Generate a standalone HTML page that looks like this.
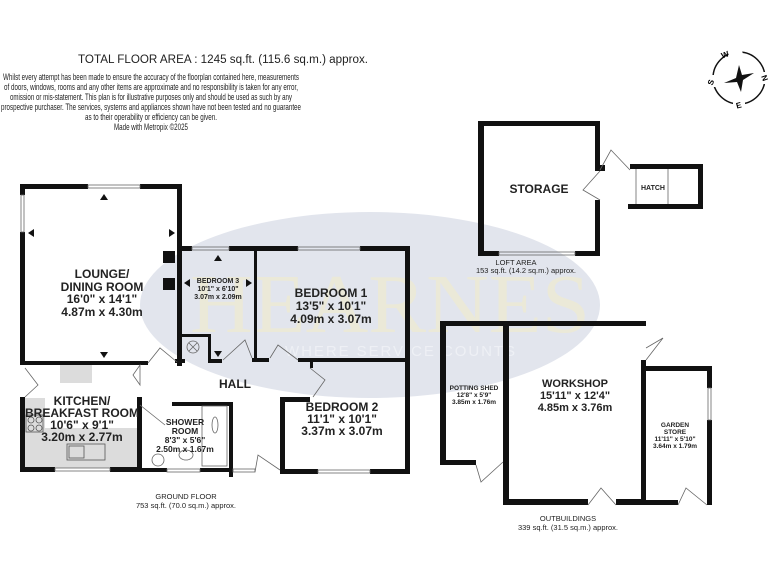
<!DOCTYPE html>
<html><head><meta charset="utf-8"><style>
html,body{margin:0;padding:0;background:#fff;}
svg{display:block;}
text{font-family:"Liberation Sans",sans-serif;}
</style></head><body>
<svg width="768" height="576" viewBox="0 0 768 576" xmlns="http://www.w3.org/2000/svg">
<rect width="768" height="576" fill="#fff"/>
<ellipse cx="370" cy="305" rx="230" ry="93" fill="#e2e5ed"/>
<text x="390" y="332" style="font-family:'Liberation Serif',serif" font-size="84" fill="#ebe9d8" text-anchor="middle" textLength="400" lengthAdjust="spacingAndGlyphs">HEARNES</text>
<text x="400" y="356" font-size="15" fill="#eef0f5" text-anchor="middle" textLength="230" lengthAdjust="spacing">WHERE SERVICE COUNTS</text>

<text x="78" y="63" font-size="11.5" fill="#222" textLength="290" lengthAdjust="spacingAndGlyphs">TOTAL FLOOR AREA : 1245 sq.ft. (115.6 sq.m.) approx.</text>
<g font-size="9.5" fill="#222" text-anchor="middle">
<text x="151" y="80" textLength="296" lengthAdjust="spacingAndGlyphs">Whilst every attempt has been made to ensure the accuracy of the floorplan contained here, measurements</text>
<text x="151" y="90" textLength="294" lengthAdjust="spacingAndGlyphs">of doors, windows, rooms and any other items are approximate and no responsibility is taken for any error,</text>
<text x="151" y="100" textLength="282" lengthAdjust="spacingAndGlyphs">omission or mis-statement. This plan is for illustrative purposes only and should be used as such by any</text>
<text x="151" y="110" textLength="300" lengthAdjust="spacingAndGlyphs">prospective purchaser. The services, systems and appliances shown have not been tested and no guarantee</text>
<text x="151" y="120" textLength="132" lengthAdjust="spacingAndGlyphs">as to their operability or efficiency can be given.</text>
<text x="151" y="130" textLength="74" lengthAdjust="spacingAndGlyphs">Made with Metropix ©2025</text>
</g>

<g transform="translate(739,78)">
<circle r="26" fill="none" stroke="#111" stroke-width="1.5"/>
<rect x="-4" y="-31" width="14" height="9" fill="#fff" transform="rotate(-15)"/>
<rect x="21" y="-6" width="10" height="12" fill="#fff"/>
<rect x="-31" y="-3" width="10" height="12" fill="#fff"/>
<rect x="-6" y="21" width="12" height="10" fill="#fff"/>
<polygon points="0,-13 3,-3 15,-5 4,2 2,14 -2,4 -15,5 -3,0" fill="#111"/>
<text x="-9" y="-24" font-size="8" font-weight="bold" transform="rotate(-20)">W</text>
<text x="23" y="3" font-size="8" font-weight="bold" transform="rotate(70 26 0)">N</text>
<text x="-32" y="6" font-size="8" font-weight="bold" transform="rotate(-70 -28 3)">S</text>
<text x="-3" y="30" font-size="8" font-weight="bold" transform="rotate(-15 0 27)">E</text>
</g>

<g fill="#dcdcdc">
<rect x="25" y="398" width="112" height="70"/>
<rect x="60" y="365" width="32" height="18"/>
</g>
<rect x="25" y="398" width="112" height="30" fill="#fff"/>
<rect x="25" y="398" width="20" height="70" fill="#dcdcdc"/>
<g fill="none" stroke="#555" stroke-width="0.8">
<rect x="26" y="415" width="17" height="17"/>
<circle cx="31" cy="420" r="3"/><circle cx="39" cy="420" r="3"/><circle cx="31" cy="428" r="3"/><circle cx="39" cy="428" r="3"/>
<rect x="67" y="444" width="38" height="16"/>
<rect x="69" y="446" width="15" height="12"/>
</g>

<g fill="#111">
<rect x="20" y="184" width="68" height="5"/>
<rect x="140" y="184" width="42" height="5"/>
<rect x="20" y="184" width="5" height="11"/>
<rect x="20" y="232" width="5" height="133"/>
<rect x="20" y="361" width="128" height="4"/>
<rect x="177" y="184" width="5" height="65"/>
<rect x="177" y="246" width="5" height="120"/>
<rect x="163" y="251" width="12" height="12"/>
<rect x="163" y="278" width="12" height="12"/>
<rect x="177" y="246" width="15" height="5"/>
<rect x="229" y="246" width="69" height="5"/>
<rect x="360" y="246" width="50" height="5"/>
<rect x="405" y="246" width="5" height="228"/>
<rect x="254" y="251" width="3" height="111"/>
<rect x="252" y="358" width="17" height="4"/>
<rect x="298" y="358" width="112" height="4"/>
<rect x="182" y="334" width="28" height="3"/>
<rect x="208" y="334" width="3" height="28"/>
<rect x="208" y="359" width="14" height="4"/>
<rect x="175" y="359" width="10" height="4"/>
<rect x="280" y="397" width="30" height="5"/>
<rect x="280" y="397" width="5" height="77"/>
<rect x="280" y="469" width="38" height="5"/>
<rect x="370" y="469" width="40" height="5"/>
<rect x="310" y="362" width="3" height="6"/>
<rect x="20" y="397" width="5" height="75"/>
<rect x="20" y="467" width="35" height="5"/>
<rect x="110" y="467" width="32" height="5"/>
<rect x="137" y="397" width="5" height="75"/>
<rect x="137" y="361" width="10" height="4"/>
<rect x="172" y="402" width="61" height="4"/>
<rect x="229" y="402" width="4" height="75"/>
<rect x="142" y="468" width="25" height="4"/>
<rect x="200" y="468" width="33" height="4"/>
<rect x="478" y="121" width="122" height="5"/>
<rect x="478" y="121" width="6" height="135"/>
<rect x="478" y="251" width="21" height="5"/>
<rect x="575" y="251" width="25" height="5"/>
<rect x="595" y="121" width="5" height="50"/>
<rect x="595" y="165" width="10" height="6"/>
<rect x="595" y="200" width="5" height="56"/>
<rect x="630" y="164" width="73" height="5"/>
<rect x="698" y="164" width="5" height="45"/>
<rect x="628" y="204" width="75" height="5"/>
<rect x="440" y="321" width="206" height="5"/>
<rect x="440" y="321" width="6" height="144"/>
<rect x="440" y="460" width="36" height="5"/>
<rect x="503" y="326" width="6" height="179"/>
<rect x="503" y="499" width="85" height="6"/>
<rect x="616" y="499" width="30" height="6"/>
<rect x="641" y="360" width="5" height="145"/>
<rect x="641" y="366" width="71" height="5"/>
<rect x="707" y="366" width="5" height="22"/>
<rect x="707" y="420" width="5" height="85"/>
<rect x="641" y="500" width="37" height="5"/>
</g>

<g fill="none" stroke="#666" stroke-width="0.8">
<rect x="88" y="185" width="52" height="3"/>
<rect x="21" y="195" width="3" height="37"/>
<rect x="192" y="247" width="37" height="3"/>
<rect x="298" y="247" width="62" height="3"/>
<rect x="318" y="470" width="52" height="3"/>
<rect x="55" y="468" width="55" height="3"/>
<rect x="167" y="469" width="33" height="3"/>
<rect x="233" y="469" width="22" height="3"/>
<rect x="499" y="252" width="76" height="3"/>
<rect x="708" y="388" width="3" height="32"/>
<line x1="636" y1="169" x2="636" y2="204"/>
<line x1="668" y1="169" x2="668" y2="204"/>
<path d="M148 363 L160 348 L177 362"/>
<path d="M223 360 L245 340 L252 358"/>
<path d="M270 358 L278 345 L298 360"/>
<path d="M310 368 L325 380 L313 397"/>
<path d="M25 397 L38 385 L25 368"/>
<path d="M140 365 L140 385 L133 375 Z"/>
<path d="M140 405 L165 425"/>
<path d="M255 472 L258 455 L280 470"/>
<path d="M600 170 L611 150 L630 170"/>
<path d="M600 200 L583 190 L600 171"/>
<path d="M476 465 L481 482 L503 462"/>
<path d="M588 505 L601 488 L616 505"/>
<path d="M646 348 L663 338 L646 360"/>
<path d="M678 505 L686 488 L707 505"/>
<circle cx="193" cy="347" r="6"/>
<path d="M189 343 L197 351 M197 343 L189 351"/>
<rect x="202" y="406" width="25" height="60"/>
<ellipse cx="215" cy="425" rx="3" ry="8"/>
<ellipse cx="158" cy="460" rx="6" ry="6"/>
<ellipse cx="186" cy="455" rx="7" ry="5"/>
</g>
<g fill="#111">
<polygon points="100,200 104,194 108,200"/>
<polygon points="100,352 104,358 108,352"/>
<polygon points="28,233 34,229 34,237"/>
<polygon points="175,233 169,229 169,237"/>
<polygon points="214,261 218,255 222,261"/>
<polygon points="214,351 218,357 222,351"/>
<polygon points="184,283 190,279 190,287"/>
<polygon points="252,283 246,279 246,287"/>
</g>

<g font-weight="bold" fill="#222" text-anchor="middle">
<text x="102" y="278" font-size="12">LOUNGE/</text>
<text x="102" y="291" font-size="12">DINING ROOM</text>
<text x="102" y="303" font-size="12">16'0"  x 14'1"</text>
<text x="102" y="316" font-size="12">4.87m  x 4.30m</text>
<text x="218" y="283" font-size="7">BEDROOM 3</text>
<text x="218" y="291" font-size="7">10'1"  x 6'10"</text>
<text x="218" y="299" font-size="7">3.07m  x 2.09m</text>
<text x="331" y="297" font-size="12">BEDROOM 1</text>
<text x="331" y="310" font-size="12">13'5"  x 10'1"</text>
<text x="331" y="323" font-size="12">4.09m  x 3.07m</text>
<text x="235" y="388" font-size="12">HALL</text>
<text x="342" y="411" font-size="12">BEDROOM 2</text>
<text x="342" y="423" font-size="12">11'1"  x 10'1"</text>
<text x="342" y="435" font-size="12">3.37m  x 3.07m</text>
<text x="82" y="405" font-size="12">KITCHEN/</text>
<text x="82" y="417" font-size="12">BREAKFAST ROOM</text>
<text x="82" y="429" font-size="12">10'6"  x 9'1"</text>
<text x="82" y="441" font-size="12">3.20m  x 2.77m</text>
<text x="185" y="425" font-size="8.5">SHOWER</text>
<text x="185" y="434" font-size="8.5">ROOM</text>
<text x="185" y="443" font-size="8.5">8'3"  x 5'6"</text>
<text x="185" y="452" font-size="8.5">2.50m  x 1.67m</text>
<text x="539" y="193" font-size="12">STORAGE</text>
<text x="653" y="190" font-size="7">HATCH</text>
<text x="575" y="387" font-size="11">WORKSHOP</text>
<text x="575" y="399" font-size="11">15'11"  x 12'4"</text>
<text x="575" y="411" font-size="11">4.85m  x 3.76m</text>
<text x="474" y="390" font-size="6.5">POTTING SHED</text>
<text x="474" y="397" font-size="6.5">12'8"  x 5'9"</text>
<text x="474" y="404" font-size="6.5">3.85m  x 1.76m</text>
<text x="675" y="427" font-size="6.5">GARDEN</text>
<text x="675" y="434" font-size="6.5">STORE</text>
<text x="675" y="441" font-size="6.5">11'11"  x 5'10"</text>
<text x="675" y="448" font-size="6.5">3.64m  x 1.79m</text>
</g>
<g font-size="7.5" fill="#222" text-anchor="middle">
<text x="186" y="499">GROUND FLOOR</text>
<text x="186" y="508">753 sq.ft. (70.0 sq.m.) approx.</text>
<text x="516" y="265">LOFT AREA</text>
<text x="526" y="273">153 sq.ft. (14.2 sq.m.) approx.</text>
<text x="568" y="521">OUTBUILDINGS</text>
<text x="568" y="530">339 sq.ft. (31.5 sq.m.) approx.</text>
</g>
</svg>
</body></html>
